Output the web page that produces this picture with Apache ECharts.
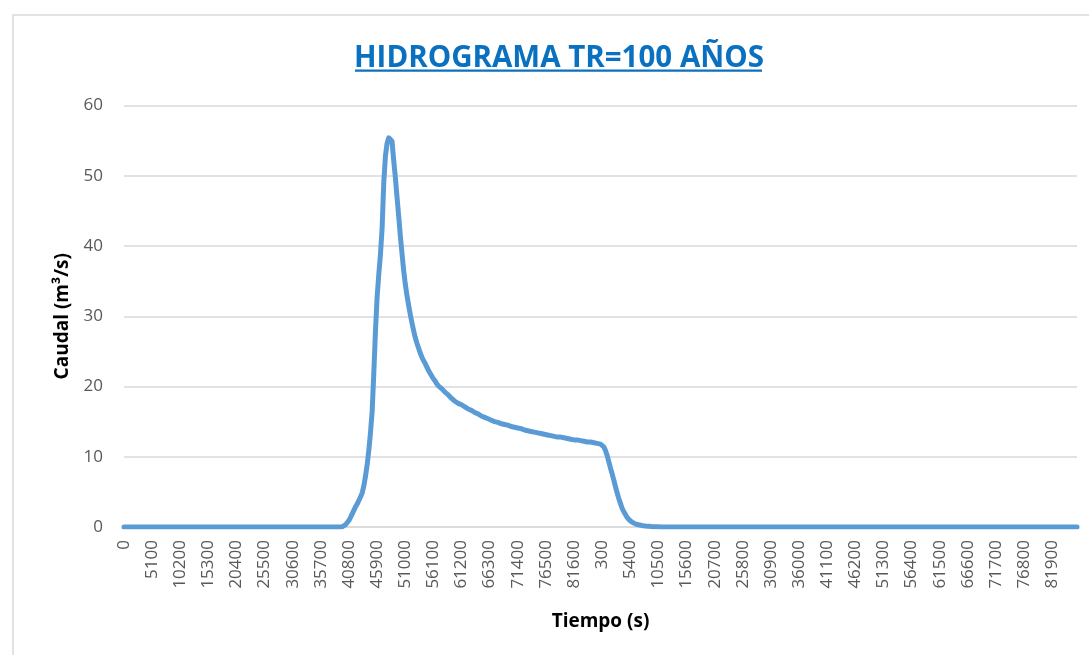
<!DOCTYPE html>
<html>
<head>
<meta charset="utf-8">
<script src="https://cdn.jsdelivr.net/npm/echarts@6/dist/echarts.min.js"></script>
<style>
html,body{margin:0;padding:0;background:#fff;}
#chart{width:1089px;height:655px;}
</style>
</head>
<body>
<div id="chart"></div>
<script>
// ---- DATA ----
var chartTitle = 'HIDROGRAMA TR=100 AÑOS';
var xName = 'Tiempo (s)';
var yName = 'Caudal (m³/s)';
var yTicks = [0, 10, 20, 30, 40, 50, 60];

// Time stamps (s), first day
var tiempoDia1 = [
0,300,600,900,1200,1500,1800,2100,2400,2700,3000,3300,
3600,3900,4200,4500,4800,5100,5400,5700,6000,6300,6600,6900,
7200,7500,7800,8100,8400,8700,9000,9300,9600,9900,10200,10500,
10800,11100,11400,11700,12000,12300,12600,12900,13200,13500,13800,14100,
14400,14700,15000,15300,15600,15900,16200,16500,16800,17100,17400,17700,
18000,18300,18600,18900,19200,19500,19800,20100,20400,20700,21000,21300,
21600,21900,22200,22500,22800,23100,23400,23700,24000,24300,24600,24900,
25200,25500,25800,26100,26400,26700,27000,27300,27600,27900,28200,28500,
28800,29100,29400,29700,30000,30300,30600,30900,31200,31500,31800,32100,
32400,32700,33000,33300,33600,33900,34200,34500,34800,35100,35400,35700,
36000,36300,36600,36900,37200,37500,37800,38100,38400,38700,39000,39300,
39600,39900,40200,40500,40800,41100,41400,41700,42000,42300,42600,42900,
43200,43500,43800,44100,44400,44700,45000,45300,45600,45900,46200,46500,
46800,47100,47400,47700,48000,48300,48600,48900,49200,49500,49800,50100,
50400,50700,51000,51300,51600,51900,52200,52500,52800,53100,53400,53700,
54000,54300,54600,54900,55200,55500,55800,56100,56400,56700,57000,57300,
57600,57900,58200,58500,58800,59100,59400,59700,60000,60300,60600,60900,
61200,61500,61800,62100,62400,62700,63000,63300,63600,63900,64200,64500,
64800,65100,65400,65700,66000,66300,66600,66900,67200,67500,67800,68100,
68400,68700,69000,69300,69600,69900,70200,70500,70800,71100,71400,71700,
72000,72300,72600,72900,73200,73500,73800,74100,74400,74700,75000,75300,
75600,75900,76200,76500,76800,77100,77400,77700,78000,78300,78600,78900,
79200,79500,79800,80100,80400,80700,81000,81300,81600,81900,82200,82500,
82800,83100,83400,83700,84000,84300,84600,84900,85200,85500,85800,86100,
86400
];
// Time stamps (s), second day
var tiempoDia2 = [
300,600,900,1200,1500,1800,2100,2400,2700,3000,3300,
3600,3900,4200,4500,4800,5100,5400,5700,6000,6300,6600,6900,
7200,7500,7800,8100,8400,8700,9000,9300,9600,9900,10200,10500,
10800,11100,11400,11700,12000,12300,12600,12900,13200,13500,13800,14100,
14400,14700,15000,15300,15600,15900,16200,16500,16800,17100,17400,17700,
18000,18300,18600,18900,19200,19500,19800,20100,20400,20700,21000,21300,
21600,21900,22200,22500,22800,23100,23400,23700,24000,24300,24600,24900,
25200,25500,25800,26100,26400,26700,27000,27300,27600,27900,28200,28500,
28800,29100,29400,29700,30000,30300,30600,30900,31200,31500,31800,32100,
32400,32700,33000,33300,33600,33900,34200,34500,34800,35100,35400,35700,
36000,36300,36600,36900,37200,37500,37800,38100,38400,38700,39000,39300,
39600,39900,40200,40500,40800,41100,41400,41700,42000,42300,42600,42900,
43200,43500,43800,44100,44400,44700,45000,45300,45600,45900,46200,46500,
46800,47100,47400,47700,48000,48300,48600,48900,49200,49500,49800,50100,
50400,50700,51000,51300,51600,51900,52200,52500,52800,53100,53400,53700,
54000,54300,54600,54900,55200,55500,55800,56100,56400,56700,57000,57300,
57600,57900,58200,58500,58800,59100,59400,59700,60000,60300,60600,60900,
61200,61500,61800,62100,62400,62700,63000,63300,63600,63900,64200,64500,
64800,65100,65400,65700,66000,66300,66600,66900,67200,67500,67800,68100,
68400,68700,69000,69300,69600,69900,70200,70500,70800,71100,71400,71700,
72000,72300,72600,72900,73200,73500,73800,74100,74400,74700,75000,75300,
75600,75900,76200,76500,76800,77100,77400,77700,78000,78300,78600,78900,
79200,79500,79800,80100,80400,80700,81000,81300,81600,81900,82200,82500,
82800,83100,83400,83700,84000,84300,84600,84900,85200,85500,85800,86100,
86400
];

// Caudal (m3/s), one value per time stamp (day 1 then day 2)
var caudal = [
/*0*/   0,0,0,0,0,0,0,0,0,0,
/*10*/  0,0,0,0,0,0,0,0,0,0,
/*20*/  0,0,0,0,0,0,0,0,0,0,
/*30*/  0,0,0,0,0,0,0,0,0,0,
/*40*/  0,0,0,0,0,0,0,0,0,0,
/*50*/  0,0,0,0,0,0,0,0,0,0,
/*60*/  0,0,0,0,0,0,0,0,0,0,
/*70*/  0,0,0,0,0,0,0,0,0,0,
/*80*/  0,0,0,0,0,0,0,0,0,0,
/*90*/  0,0,0,0,0,0,0,0,0,0,
/*100*/ 0,0,0,0,0,0,0,0,0,0,
/*110*/ 0,0,0,0,0,0,0,0,0,0,
/*120*/ 0,0,0,0,0,0,0,0,0,0,
/*130*/ 0,0.02,0.05,0.15,0.35,0.6,0.95,1.4,1.9,2.4,
/*140*/ 2.9,3.3,3.8,4.3,4.9,5.9,7.3,8.9,11.0,13.5,
/*150*/ 16.5,22.0,28.0,32.8,36.0,38.8,42.5,49.0,52.8,54.6,
/*160*/ 55.4,55.2,54.9,52.2,49.8,47.0,44.3,41.5,39.0,36.6,
/*170*/ 34.6,33.0,31.6,30.3,29.1,28.0,27.0,26.2,25.5,24.8,
/*180*/ 24.2,23.7,23.3,22.8,22.3,21.9,21.5,21.1,20.8,20.4,
/*190*/ 20.1,19.9,19.7,19.5,19.2,19.0,18.8,18.6,18.3,18.1,
/*200*/ 17.9,17.8,17.6,17.5,17.4,17.2,17.1,16.9,16.8,16.7,
/*210*/ 16.6,16.5,16.3,16.2,16.1,16.0,15.8,15.7,15.6,15.5,
/*220*/ 15.4,15.3,15.2,15.1,15.0,15.0,14.9,14.8,14.7,14.7,
/*230*/ 14.6,14.5,14.5,14.4,14.3,14.2,14.2,14.1,14.1,14.0,
/*240*/ 14.0,13.9,13.8,13.8,13.7,13.7,13.6,13.6,13.5,13.5,
/*250*/ 13.4,13.4,13.3,13.3,13.2,13.2,13.1,13.1,13.0,13.0,
/*260*/ 12.9,12.9,12.8,12.8,12.8,12.7,12.7,12.6,12.6,12.6,
/*270*/ 12.5,12.5,12.4,12.4,12.4,12.3,12.3,12.2,12.2,12.2,
/*280*/ 12.1,12.1,12.1,12.0,12.0,12.0,11.9,11.9,11.8,11.7,
/*290*/ 11.4,10.9,10.2,9.3,8.4,7.6,6.7,5.8,4.9,4.1,
/*300*/ 3.4,2.7,2.2,1.8,1.4,1.1,0.9,0.7,0.55,0.45,
/*310*/ 0.38,0.32,0.27,0.22,0.18,0.15,0.12,0.1,0.08,0.06,
/*320*/ 0.05,0.04,0.03,0.02,0.01,0.01,0,0,0,0,
/*330*/ 0,0,0,0,0,0,0,0,0,0,
/*340*/ 0,0,0,0,0,0,0,0,0,0,
/*350*/ 0,0,0,0,0,0,0,0,0,0,
/*360*/ 0,0,0,0,0,0,0,0,0,0,
/*370*/ 0,0,0,0,0,0,0,0,0,0,
/*380*/ 0,0,0,0,0,0,0,0,0,0,
/*390*/ 0,0,0,0,0,0,0,0,0,0,
/*400*/ 0,0,0,0,0,0,0,0,0,0,
/*410*/ 0,0,0,0,0,0,0,0,0,0,
/*420*/ 0,0,0,0,0,0,0,0,0,0,
/*430*/ 0,0,0,0,0,0,0,0,0,0,
/*440*/ 0,0,0,0,0,0,0,0,0,0,
/*450*/ 0,0,0,0,0,0,0,0,0,0,
/*460*/ 0,0,0,0,0,0,0,0,0,0,
/*470*/ 0,0,0,0,0,0,0,0,0,0,
/*480*/ 0,0,0,0,0,0,0,0,0,0,
/*490*/ 0,0,0,0,0,0,0,0,0,0,
/*500*/ 0,0,0,0,0,0,0,0,0,0,
/*510*/ 0,0,0,0,0,0,0,0,0,0,
/*520*/ 0,0,0,0,0,0,0,0,0,0,
/*530*/ 0,0,0,0,0,0,0,0,0,0,
/*540*/ 0,0,0,0,0,0,0,0,0,0,
/*550*/ 0,0,0,0,0,0,0,0,0,0,
/*560*/ 0,0,0,0,0,0,0,0,0,0,
/*570*/ 0,0,0,0,0,0,0
];

// ---- CHART ----
var categories = tiempoDia1.concat(tiempoDia2).map(String);
var chart = echarts.init(document.getElementById('chart'), null, {renderer: 'canvas'});
var gridLeft = 124, gridRight = 12, gridTop = 105.5, gridBottom = 128;

chart.setOption({
  animation: false,
  backgroundColor: '#ffffff',
  title: {
    text: chartTitle,
    left: 554,
    top: 38.5,
    textAlign: 'center',
    textStyle: {
      fontFamily: 'Open Sans',
      fontWeight: 'bold',
      fontSize: 29.5,
      color: '#0A70C0'
    }
  },
  graphic: [
    {
      type: 'rect',
      shape: {x: 13, y: 15, width: 1200, height: 800},
      style: {fill: null, stroke: '#D9D9D9', lineWidth: 1.5},
      silent: true,
      z: -1
    },
    {
      id: 'underline',
      type: 'rect',
      shape: {x: 355, y: 69.5, width: 407, height: 2.2},
      style: {fill: '#0A70C0'},
      silent: true
    }
  ],
  grid: {left: gridLeft, right: gridRight, top: gridTop, bottom: gridBottom, containLabel: false},
  xAxis: {
    type: 'category',
    data: categories,
    boundaryGap: false,
    name: xName,
    nameLocation: 'middle',
    nameGap: 85,
    nameTextStyle: {fontFamily: 'Open Sans', fontWeight: 'bold', fontSize: 19, color: '#000000'},
    axisLine: {show: true, lineStyle: {color: '#D9D9D9', width: 1.5}},
    axisTick: {show: false},
    axisLabel: {
      interval: 16,
      rotate: 90,
      margin: 13,
      fontFamily: 'Open Sans',
      fontSize: 17,
      color: '#595959'
    },
    splitLine: {show: false}
  },
  yAxis: {
    type: 'value',
    min: yTicks[0],
    max: yTicks[yTicks.length - 1],
    interval: 10,
    name: yName,
    nameLocation: 'middle',
    nameGap: 52,
    nameTextStyle: {fontFamily: 'Open Sans', fontWeight: 'bold', fontSize: 19, color: '#000000'},
    axisLine: {show: false},
    axisTick: {show: false},
    axisLabel: {margin: 21, fontFamily: 'Open Sans', fontSize: 17, color: '#595959'},
    splitLine: {show: true, lineStyle: {color: '#D9D9D9', width: 1.5}}
  },
  series: [{
    type: 'line',
    data: caudal,
    showSymbol: false,
    symbol: 'none',
    smooth: false,
    lineStyle: {color: '#5B9BD5', width: 5, join: 'round', cap: 'round'},
    z: 3
  }]
});
</script>
</body>
</html>
